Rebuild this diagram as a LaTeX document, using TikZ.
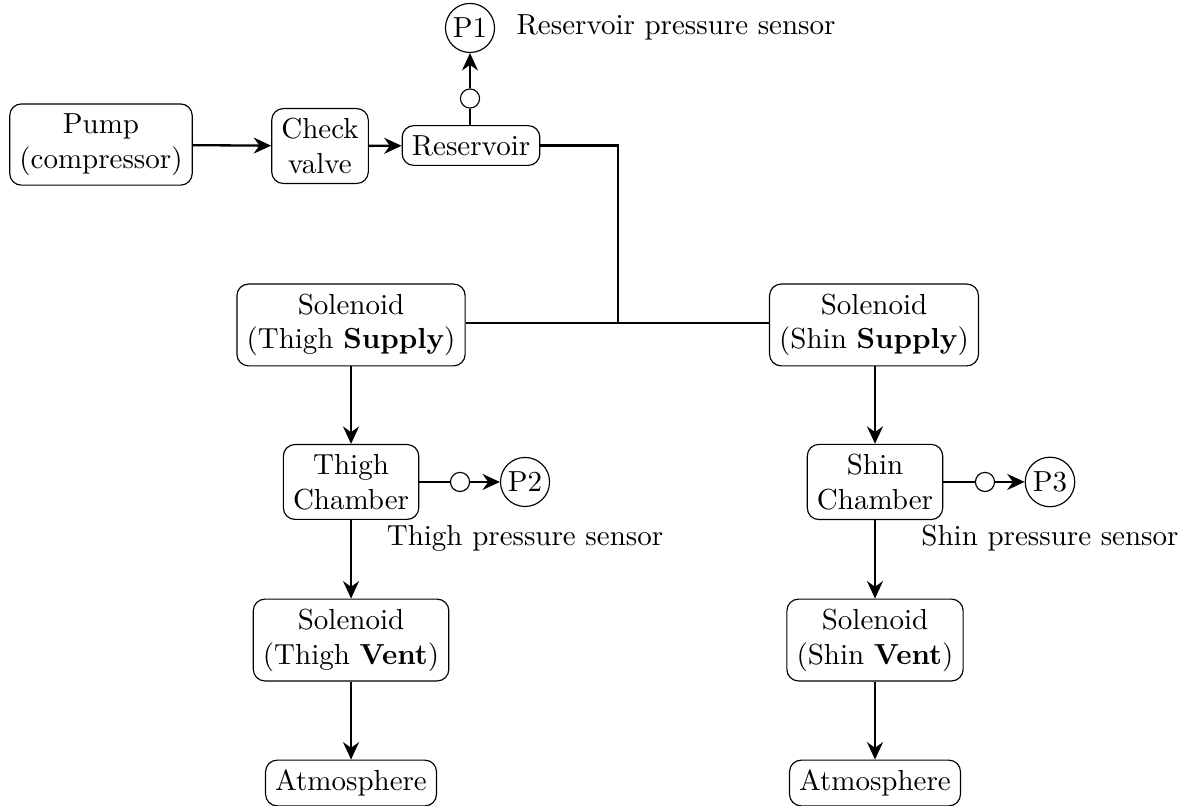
\documentclass[tikz,border=0pt]{standalone}
\usetikzlibrary{arrows.meta}
\begin{document}
\begin{tikzpicture}[
  box/.style={draw, rounded corners=4pt, align=center},
  sensor/.style={draw, circle, inner sep=1.2pt},
  tap/.style={draw, circle, inner sep=0pt, minimum size=6.6pt, fill=white},
  conn/.style={thick},
  flow/.style={thick, -{Stealth[length=6pt,width=5.5pt]}},
  lbl/.style={inner sep=0pt}
]
\useasboundingbox (0,0) rectangle (14.412,-9.758);
\node[box] (pump) at (1.224,-1.752) {Pump\\(compressor)};
\node[box] (check) at (3.879,-1.770) {Check\\valve};
\node[box] (res) at (5.709,-1.764) {Reservoir};
\node[sensor] (p1) at (5.697,-0.339) {P1};
\node[tap] (t1) at (5.697,-1.194) {};
\node[lbl, anchor=west] (l1) at (6.255,-0.327) {Reservoir pressure sensor};

\node[box] (tsup) at (4.255,-3.939) {Solenoid\\(Thigh \textbf{Supply})};
\node[box] (ssup) at (10.594,-3.939) {Solenoid\\(Shin \textbf{Supply})};
\coordinate (j) at (7.491,-3.915);

\node[box] (tch) at (4.255,-5.842) {Thigh\\Chamber};
\node[sensor] (p2) at (6.364,-5.842) {P2};
\node[tap] (t2) at (5.576,-5.842) {};
\node[lbl] (l2) at (6.364,-6.521) {Thigh pressure sensor};
\node[box] (tvent) at (4.255,-7.758) {Solenoid\\(Thigh \textbf{Vent})};
\node[box] (tatm) at (4.255,-9.491) {Atmosphere};

\node[box] (sch) at (10.606,-5.842) {Shin\\Chamber};
\node[sensor] (p3) at (12.727,-5.842) {P3};
\node[tap] (t3) at (11.939,-5.842) {};
\node[lbl] (l3) at (12.727,-6.521) {Shin pressure sensor};
\node[box] (svent) at (10.606,-7.758) {Solenoid\\(Shin \textbf{Vent})};
\node[box] (satm) at (10.606,-9.491) {Atmosphere};

\draw[flow] (pump) -- (check);
\draw[flow] (check) -- (res);
\draw[conn] (res.north -| t1) -- (t1);
\draw[flow] (t1) -- (p1);
\draw[conn] (res.east) -| (j);
\draw[conn] (tsup.east |- j) -- (ssup.west |- j);

\draw[flow] (tsup) -- (tch);
\draw[conn] (tch) -- (t2);
\draw[flow] (t2) -- (p2);
\draw[flow] (tch) -- (tvent);
\draw[flow] (tvent) -- (tatm);

\draw[flow] (ssup.south -| sch) -- (sch);
\draw[conn] (sch) -- (t3);
\draw[flow] (t3) -- (p3);
\draw[flow] (sch) -- (svent);
\draw[flow] (svent) -- (satm);
\end{tikzpicture}
\end{document}
